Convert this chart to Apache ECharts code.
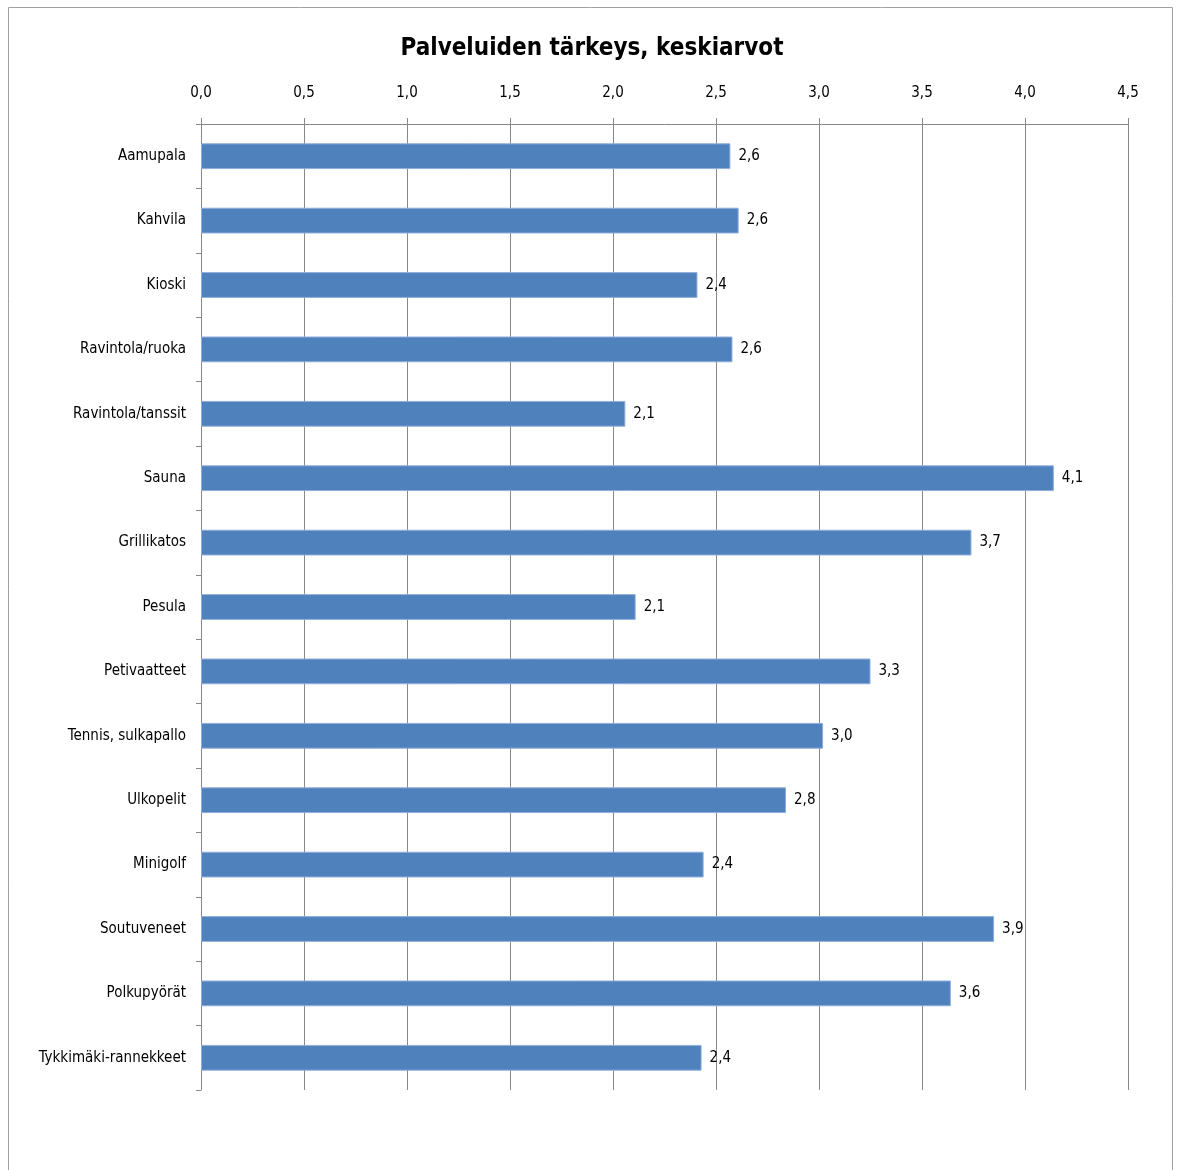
<!DOCTYPE html>
<html>
<head>
<meta charset="utf-8">
<script src="https://cdn.jsdelivr.net/npm/echarts@6/dist/echarts.min.js"></script>
<style>
html,body{margin:0;padding:0;background:#fff;}
#chart{width:1177px;height:1170px;}
</style>
</head>
<body>
<div id="chart"></div>
<script>
const chartTitle = 'Palveluiden tärkeys, keskiarvot';
const categories = ['Aamupala','Kahvila','Kioski','Ravintola/ruoka','Ravintola/tanssit','Sauna','Grillikatos','Pesula','Petivaatteet','Tennis, sulkapallo','Ulkopelit','Minigolf','Soutuveneet','Polkupyörät','Tykkimäki-rannekkeet'];
const values = [2.57, 2.61, 2.41, 2.58, 2.06, 4.14, 3.74, 2.11, 3.25, 3.02, 2.84, 2.44, 3.85, 3.64, 2.43];
const xTicks = [0, 0.5, 1.0, 1.5, 2.0, 2.5, 3.0, 3.5, 4.0, 4.5];

const fmt = v => Number(v).toFixed(1).replace('.', ',');
const FONT = "'Liberation Sans Narrow', 'DejaVu Sans Condensed', 'Liberation Sans', sans-serif";

const chart = echarts.init(document.getElementById('chart'));
chart.setOption({
  animation: false,
  backgroundColor: '#fff',
  title: {
    text: chartTitle,
    left: 587, top: 32, textAlign: 'center',
    textStyle: {fontFamily: FONT, fontSize: 24, fontWeight: 'bold', color: '#000'}
  },
  graphic: [{
    type: 'rect', shape: {x: 8.5, y: 7.5, width: 1164, height: 1200},
    style: {fill: 'none', stroke: '#a0a0a0', lineWidth: 1}, silent: true
  }],
  grid: {left: 201, right: 49, top: 124, bottom: 80, containLabel: false},
  xAxis: {
    type: 'value', position: 'top',
    min: xTicks[0], max: xTicks[xTicks.length - 1], interval: 0.5,
    axisLine: {show: true, lineStyle: {color: '#888', width: 1}},
    axisTick: {show: true, length: 6, lineStyle: {color: '#888'}},
    axisLabel: {formatter: fmt, fontFamily: FONT, fontSize: 15, color: '#000', margin: 23},
    splitLine: {show: true, lineStyle: {color: '#888', width: 1}}
  },
  yAxis: {
    type: 'category', data: categories, inverse: true,
    axisLine: {show: true, lineStyle: {color: '#888', width: 1}},
    axisTick: {show: true, length: 5, interval: 0, lineStyle: {color: '#888'}},
    axisLabel: {fontFamily: FONT, fontSize: 15, color: '#000', margin: 15, interval: 0}
  },
  series: [{
    type: 'bar', data: values, barCategoryGap: '60%',
    itemStyle: {color: '#4F81BD', borderColor: '#8FAEDB', borderWidth: 1},
    label: {show: true, position: 'right', distance: 8, formatter: p => fmt(p.value),
      fontFamily: FONT, fontSize: 15, color: '#000'}
  }]
});
</script>
</body>
</html>
